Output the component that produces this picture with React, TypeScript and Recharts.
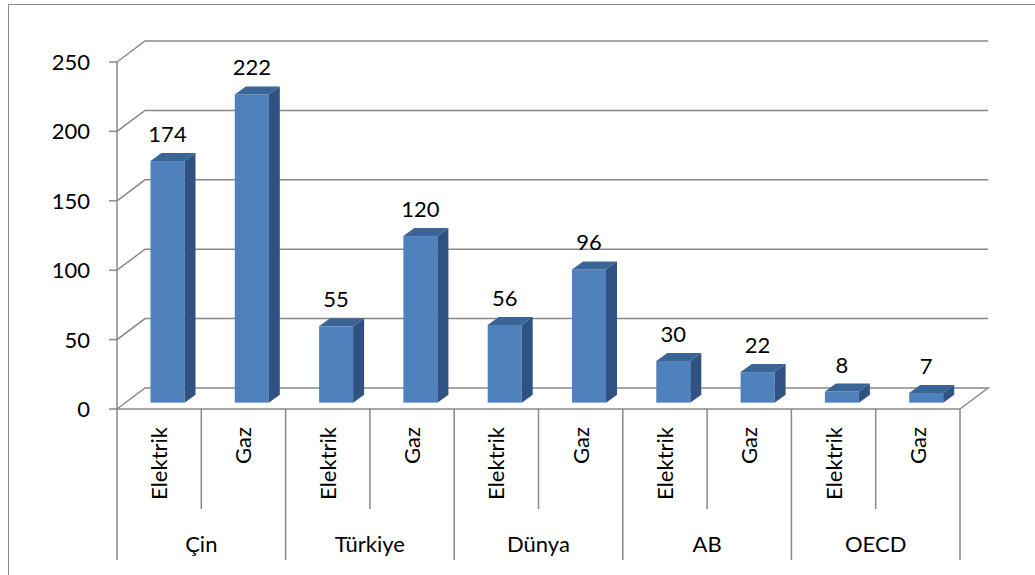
import { Bar, BarChart, CartesianGrid, LabelList, XAxis, YAxis } from "recharts";

const groups = ["Çin", "Türkiye", "Dünya", "AB", "OECD"];
const types = ["Elektrik", "Gaz"];
const values = [174, 222, 55, 120, 56, 96, 30, 22, 8, 7];
const yTicks = [0, 50, 100, 150, 200, 250];

const data = values.map((value, i) => ({
  key: `${groups[Math.floor(i / 2)]}-${types[i % 2]}`,
  group: groups[Math.floor(i / 2)],
  type: types[i % 2],
  value,
}));

const FONT = "Lato, 'Open Sans', sans-serif";
const GRID = "#898989";
// floor / wall depth
const DEPTH_X = 28;
const DEPTH_Y = 21;
// bar depth and where the bar sits on the floor
const BAR_DX = 11;
const BAR_DY = 8;
const SHIFT_X = (DEPTH_X - BAR_DX) / 2;
const SHIFT_Y = (DEPTH_Y * SHIFT_X) / DEPTH_X;

function Bar3D(props: any) {
  const { x, y, width, height } = props;
  const fx = x + SHIFT_X;
  const fy = y - SHIFT_Y;
  return (
    <g>
      <rect x={fx} y={fy} width={width} height={height} fill="#4f81bd" />
      <polygon
        points={`${fx},${fy} ${fx + BAR_DX},${fy - BAR_DY} ${fx + width + BAR_DX},${fy - BAR_DY} ${fx + width},${fy}`}
        fill="#3b6597"
      />
      <polygon
        points={`${fx + width},${fy} ${fx + width + BAR_DX},${fy - BAR_DY} ${fx + width + BAR_DX},${fy + height - BAR_DY} ${fx + width},${fy + height}`}
        fill="#2f5283"
      />
    </g>
  );
}

function BarLabel(props: any) {
  const { x, y, width, value } = props;
  return (
    <text
      x={x + width / 2 + SHIFT_X}
      y={y - SHIFT_Y - BAR_DY - 11}
      textAnchor="middle"
      fontFamily={FONT}
      fontSize={22}
      fill="#000"
    >
      {value}
    </text>
  );
}

function GridLine(props: any) {
  const { x1, y1, x2, y, height } = props;
  const isFloor = Math.abs(y1 - (y + height)) < 1;
  let d = `M${x1},${y1} L${x1 + DEPTH_X},${y1 - DEPTH_Y} L${x2 + DEPTH_X},${y1 - DEPTH_Y}`;
  if (isFloor) d += ` L${x2},${y1}`;
  return <path key={props.key} d={d} stroke={GRID} strokeWidth={1.5} fill="none" />;
}

function YTick(props: any) {
  const { x, y, payload } = props;
  return (
    <text x={x} y={y} dy="0.36em" textAnchor="end" fontFamily={FONT} fontSize={22} fill="#000">
      {payload.value}
    </text>
  );
}

function XTick(props: any) {
  const { x, y, payload, index } = props;
  const half = payload.offset ?? 42.15;
  const item = data[index];
  const left = x - half;
  const right = x + half;
  const first = index % 2 === 0;
  return (
    <g>
      <line x1={left} y1={y} x2={left} y2={y + (first ? 151 : 100)} stroke={GRID} strokeWidth={1.5} />
      {index === data.length - 1 && (
        <line x1={right} y1={y} x2={right} y2={y + 151} stroke={GRID} strokeWidth={1.5} />
      )}
      <text
        transform={`translate(${x + 8},${y + 18}) rotate(-90)`}
        textAnchor="end"
        fontFamily={FONT}
        fontSize={22}
        fill="#000"
      >
        {item.type}
      </text>
      {first && (
        <text x={right} y={y + 143} textAnchor="middle" fontFamily={FONT} fontSize={22} fill="#000">
          {item.group}
        </text>
      )}
    </g>
  );
}

export default function App() {
  return (
    <div style={{ position: "absolute", left: 0, top: 0, width: 1035, height: 575, background: "#fff" }}>
      <div
        style={{
          position: "absolute",
          left: 8,
          top: 4,
          right: 0,
          bottom: 0,
          borderLeft: `1.5px solid ${GRID}`,
          borderTop: `1.5px solid ${GRID}`,
        }}
      />
      <div style={{ position: "absolute", left: 0, top: 0 }}>
        <BarChart
          width={1035}
          height={575}
          data={data}
          margin={{ top: 62, right: 75, bottom: 16, left: 57 }}
          barSize={34}
        >
          <CartesianGrid vertical={false} horizontal={GridLine} />
          <XAxis
            dataKey="key"
            interval={0}
            height={150}
            tickLine={false}
            tickSize={0}
            tickMargin={0}
            axisLine={{ stroke: GRID, strokeWidth: 1.5 }}
            tick={XTick}
          />
          <YAxis
            width={60}
            domain={[0, 250]}
            ticks={yTicks}
            interval={0}
            tickSize={8}
            tickMargin={19}
            tickLine={{ stroke: GRID, strokeWidth: 1.5 }}
            axisLine={{ stroke: GRID, strokeWidth: 1.5 }}
            tick={YTick}
          />
          <Bar dataKey="value" shape={Bar3D} isAnimationActive={false}>
            <LabelList dataKey="value" content={BarLabel} />
          </Bar>
        </BarChart>
      </div>
    </div>
  );
}
